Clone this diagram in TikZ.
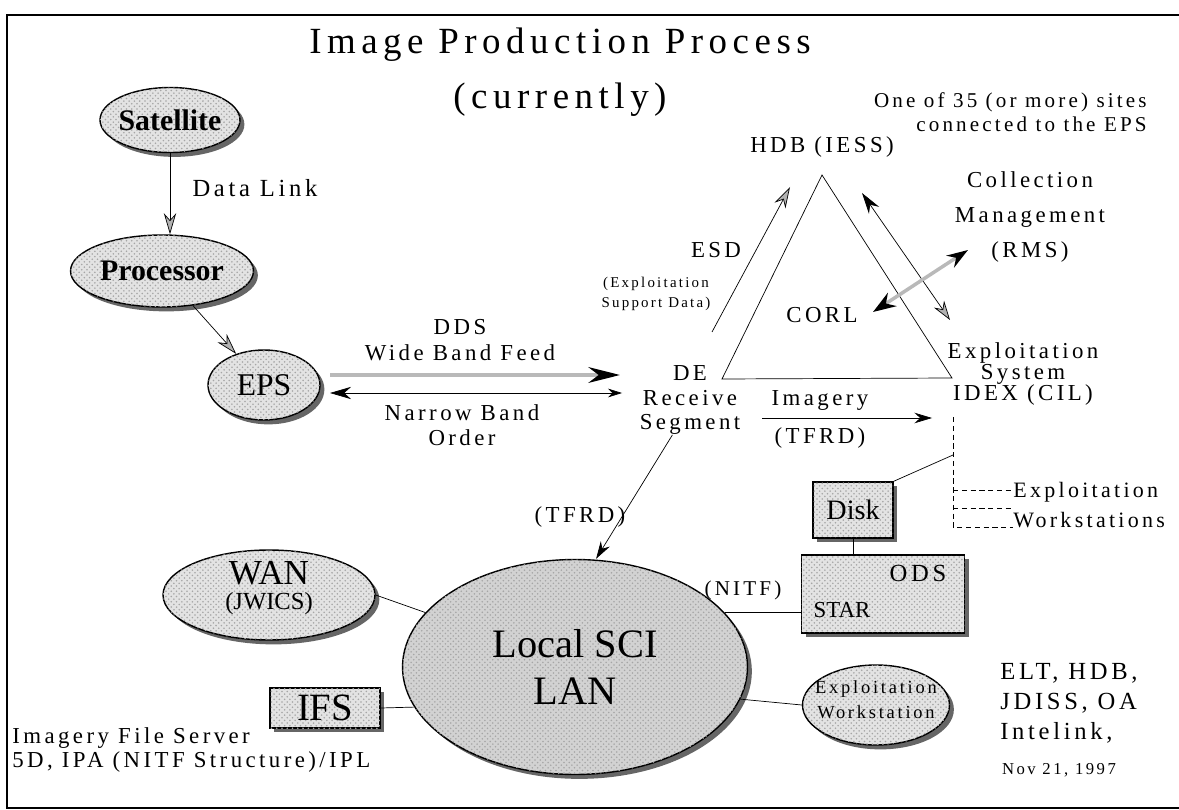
\documentclass[tikz,border=0pt]{standalone}
\usepackage{fontspec}
\setmainfont{Liberation Serif}[LetterSpace=15]
\newfontfamily\plainserif{Liberation Serif}
\usetikzlibrary{shapes.geometric,shadows,patterns,arrows.meta}

\tikzset{
  stipple/.style={fill=gray!22, postaction={pattern=crosshatch dots, pattern color=gray!70}},
  blob/.style={ellipse, draw, thick, stipple, inner sep=0pt,
    drop shadow={shadow xshift=2.5pt, shadow yshift=-2.5pt, fill=black!75, opacity=0.8}},
  box/.style={rectangle, draw, thick, stipple, inner sep=0pt,
    drop shadow={shadow xshift=2.5pt, shadow yshift=-2.5pt, fill=black!75, opacity=0.8}},
  lbl/.style={font=\fontsize{13}{14}\selectfont, inner sep=0pt, align=center},
  nodetxt/.style 2 args={font=\plainserif\fontsize{#1}{#2}\selectfont, inner sep=0pt, align=center},
  arr/.style={-{Stealth[length=10pt,width=6pt]}},
  hollow/.style={-{Stealth[length=12pt,width=7pt,fill=gray!60]}},
  feed/.style={line width=2pt, draw=gray!55, -{Stealth[length=18pt,width=9pt,color=black]}},
  tap/.style={thin, densely dashed},
}

\begin{document}
\begin{tikzpicture}[x=0.02cm, y=-0.02cm]
  \useasboundingbox (0,0) rectangle (1179,810);
  \draw[thick] (1179,15) -- (7,15) -- (7,808) -- (1179,808);

  \node[lbl, font=\fontsize{21}{31}\selectfont] (title) at (560,72) {Image Production Process\\(currently)};

  % collection chain
  \node[blob, minimum width=2.8cm, minimum height=1.3cm,
    label={[nodetxt={17}{17}]center:\bfseries Satellite}] (sat) at (170,120) {};
  \node[blob, minimum width=3.66cm, minimum height=1.44cm,
    label={[nodetxt={17}{17}]center:\bfseries Processor}] (proc) at (162,271) {};
  \node[blob, minimum width=2.24cm, minimum height=1.4cm,
    label={[nodetxt={18}{18}]center:EPS}] (eps) at (264,385) {};
  \draw[hollow] (sat.south) -- (sat.south |- proc.north);
  \draw[hollow] (proc) -- (eps);
  \node[lbl, font=\fontsize{14}{14}\selectfont] (dlink) at (255,188) {Data Link};

  % feeds between EPS and the receive segment
  \coordinate (wbw) at (330,375);
  \coordinate (wbe) at (620,375);
  \coordinate (nbw) at (330,393);
  \coordinate (nbe) at (622,393);
  \draw[feed] (wbw) -- (wbe);
  \draw[{Stealth[length=12pt,width=7pt]}-{Stealth[length=8pt,width=5pt]}] (nbw) -- (nbe);
  \node[lbl, font=\fontsize{13}{15}\selectfont] (dds) at (460,340) {DDS\\Wide Band Feed};
  \node[lbl] (nbo) at (462,425) {Narrow Band\\Order};
  \node[lbl] (de) at (690,400) {DE\\Receive\\Segment};

  % site triangle
  \coordinate (apex) at (822,175);
  \coordinate (tl) at (722,379);
  \coordinate (tr) at (952,378);
  \draw (apex) -- (tl) -- (tr) -- cycle;
  \node[lbl] (hdb) at (822,147) {HDB (IESS)};
  \node[lbl] (corl) at (822,315) {CORL};
  \node[lbl, font=\fontsize{13}{12}\selectfont] (idex) at (1023,374) {Exploitation\\System\\IDEX (CIL)};
  \node[lbl, font=\fontsize{13}{20}\selectfont] (cm) at (1030,217) {Collection\\Management\\(RMS)};
  \node[lbl, anchor=east, align=right, font=\fontsize{12}{14}\selectfont] (sites) at (1147,112)
    {One of 35 (or more) sites\\connected to the EPS};

  \coordinate (esd0) at (712,332);
  \coordinate (esd1) at (790,187);
  \draw[hollow] (esd0) -- (esd1);
  \node[lbl] (esd) at (716,250) {ESD};
  \node[lbl, font=\fontsize{8.5}{11}\selectfont] (esdnote) at (656,294) {(Exploitation\\Support Data)};

  \coordinate (hx0) at (862,193);
  \coordinate (hx1) at (950,320);
  \draw[{Stealth[length=12pt,width=7pt]}-{Stealth[length=11pt,width=7pt,fill=gray!60]}] (hx0) -- (hx1);
  \coordinate (cr0) at (873,312);
  \coordinate (cr1) at (968,250);
  \draw[line width=2pt, draw=gray!55,
    {Stealth[length=13pt,width=9pt,color=black]}-{Stealth[length=12pt,width=8pt,fill=gray!60,color=black]}] (cr0) -- (cr1);

  \coordinate (imw) at (762,418);
  \coordinate (ime) at (932,418);
  \draw[arr] (imw) -- (ime);
  \node[lbl] (imag) at (820,400) {Imagery};
  \node[lbl] (tfrdr) at (820,438) {(TFRD)};

  % workstation tap
  \coordinate (brtop) at (953,417);
  \coordinate (brmid) at (953,455);
  \coordinate (brbot) at (953,527);
  \draw[tap] (brtop) -- (brbot) -- (1013,527);
  \draw[tap] (953,490) -- (1013,490);
  \draw[tap] (953,508) -- (1013,508);
  \node[lbl, anchor=west, align=left, font=\fontsize{12.5}{17}\selectfont] (wslbl) at (1013,505) {Exploitation\\Workstations};

  % local network
  \node[blob, fill=gray!35, minimum width=6.9cm, minimum height=4.3cm,
    label={[nodetxt={23}{27}]center:{Local SCI\\LAN}}] (lan) at (575,667) {};
  \node[blob, minimum width=4.24cm, minimum height=1.8cm,
    label={[nodetxt={20}{14}, yshift=4pt]center:{WAN\\{\fontsize{14}{14}\selectfont(JWICS)}}}] (wan) at (269,595) {};
  \node[box, minimum width=2.2cm, minimum height=0.8cm,
    label={[nodetxt={22}{22}]center:IFS}] (ifs) at (325,708) {};
  \node[box, minimum width=1.6cm, minimum height=1.12cm,
    label={[nodetxt={16}{16}]center:Disk}] (disk) at (853,510) {};
  \node[box, minimum width=3.26cm, minimum height=1.56cm] (ods) at (883,594) {};
  \node[lbl, font=\fontsize{14}{14}\selectfont] (odstxt) at (918,573) {ODS};
  \node[nodetxt={13}{13}] (startxt) at (842,610) {STAR};
  \node[blob, minimum width=2.94cm, minimum height=1.6cm,
    label={[lbl, font=\fontsize{10.5}{14}\selectfont, yshift=3pt]center:{Exploitation\\Workstation}}] (ws) at (876,705) {};

  \draw[arr] ([xshift=-10pt]de.south) -- ([xshift=12pt]lan.north);
  \node[lbl] (tfrd) at (580,517) {(TFRD)};
  \node[lbl, font=\fontsize{12}{12}\selectfont] (nitf) at (743,590) {(NITF)};
  \draw (wan.east) -- (lan.160);
  \draw (ifs.east) -- (lan.194);
  \draw (lan.20) -- (lan.20 -| ods.west);
  \draw (lan.-11) -- (ws.west);
  \draw (disk.south) -- (disk.south |- ods.north);
  \draw[thin] (disk.north east) -- (brmid);

  \node[lbl, anchor=west, align=left] (ifsnote) at (12,750) {Imagery File Server\\5D, IPA (NITF Structure)/IPL};
  \node[lbl, anchor=west, align=left, font=\fontsize{14}{17}\selectfont] (elt) at (1000,703) {ELT, HDB,\\JDISS, OA\\Intelink,};
  \node[lbl, font=\fontsize{9.5}{10}\selectfont] (date) at (1059,770) {Nov 21, 1997};
\end{tikzpicture}
\end{document}
